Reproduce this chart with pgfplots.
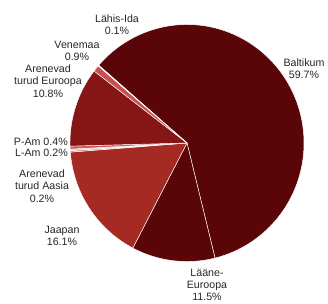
\documentclass[border=0pt]{standalone}
\usepackage{pgfplots}
\pgfplotsset{compat=1.18}
\usepackage{fontspec}
\setmainfont{Liberation Sans}
% shares in percent, clockwise from Baltikum
\def\pBalt{59.7}\def\pLaane{11.5}\def\pJaap{16.1}\def\pAasia{0.2}
\def\pLAm{0.2}\def\pPAm{0.4}\def\pEur{10.8}\def\pVen{0.9}\def\pLahis{0.1}
\def\pTot{99.9}
\pgfmathsetmacro\k{360/\pTot}
\pgfmathsetmacro\aA{139}
\pgfmathsetmacro\aB{\aA-\pBalt*\k}
\pgfmathsetmacro\aC{\aB-\pLaane*\k}
\pgfmathsetmacro\aD{\aC-\pJaap*\k}
\pgfmathsetmacro\aE{\aD-\pAasia*\k}
\pgfmathsetmacro\aF{\aE-\pLAm*\k}
\pgfmathsetmacro\aG{\aF-\pPAm*\k}
\pgfmathsetmacro\aH{\aG-\pEur*\k}
\pgfmathsetmacro\aI{\aH-\pVen*\k}
\pgfmathsetmacro\aJ{\aI-\pLahis*\k}
\definecolor{cBalt}{RGB}{90,6,8}
\definecolor{cLaane}{RGB}{90,6,8}
\definecolor{cJaap}{RGB}{165,42,36}
\definecolor{cAasia}{RGB}{215,120,115}
\definecolor{cLAm}{RGB}{235,200,200}
\definecolor{cPAm}{RGB}{200,90,90}
\definecolor{cEur}{RGB}{134,22,22}
\definecolor{cVen}{RGB}{200,80,80}
\definecolor{cLahis}{RGB}{235,200,200}
\def\cx{187}\def\cy{161}\def\rx{117}\def\ry{118.5}
\begin{document}
\begin{tikzpicture}
\begin{axis}[hide axis, scale only axis, width=328bp, height=304bp,
  xmin=0, xmax=328, ymin=0, ymax=304, clip=false,
  every axis plot/.append style={draw=white, line width=0.45bp, samples=90},
  nodes={font=\fontsize{10.7}{12.4}\selectfont, text=black!85, align=center, inner sep=0pt}]
\addplot[fill=cBalt, domain=\aB:\aA] ({\cx+\rx*cos(x)},{\cy+\ry*sin(x)}) -- (axis cs:\cx,\cy) -- cycle;
\addplot[fill=cLaane, domain=\aC:\aB] ({\cx+\rx*cos(x)},{\cy+\ry*sin(x)}) -- (axis cs:\cx,\cy) -- cycle;
\addplot[fill=cJaap, domain=\aD:\aC] ({\cx+\rx*cos(x)},{\cy+\ry*sin(x)}) -- (axis cs:\cx,\cy) -- cycle;
\addplot[fill=cAasia, domain=\aE:\aD, samples=3] ({\cx+\rx*cos(x)},{\cy+\ry*sin(x)}) -- (axis cs:\cx,\cy) -- cycle;
\addplot[fill=cLAm, domain=\aF:\aE, samples=3] ({\cx+\rx*cos(x)},{\cy+\ry*sin(x)}) -- (axis cs:\cx,\cy) -- cycle;
\addplot[fill=cPAm, domain=\aG:\aF, samples=3] ({\cx+\rx*cos(x)},{\cy+\ry*sin(x)}) -- (axis cs:\cx,\cy) -- cycle;
\addplot[fill=cEur, domain=\aH:\aG] ({\cx+\rx*cos(x)},{\cy+\ry*sin(x)}) -- (axis cs:\cx,\cy) -- cycle;
\addplot[fill=cVen, domain=\aI:\aH, samples=5] ({\cx+\rx*cos(x)},{\cy+\ry*sin(x)}) -- (axis cs:\cx,\cy) -- cycle;
\addplot[fill=cLahis, domain=\aJ:\aI, samples=3] ({\cx+\rx*cos(x)},{\cy+\ry*sin(x)}) -- (axis cs:\cx,\cy) -- cycle;
\node at (axis cs:304,235) {Baltikum\\59.7\%};
\node at (axis cs:207,19) {Lääne-\\Euroopa\\11.5\%};
\node at (axis cs:62,68) {Jaapan\\16.1\%};
\node at (axis cs:42,118) {Arenevad\\turud Aasia\\0.2\%};
\node[anchor=east] at (axis cs:68,151) {L-Am 0.2\%};
\node[anchor=east] at (axis cs:68,162) {P-Am 0.4\%};
\node at (axis cs:48,223) {Arenevad\\turud Euroopa\\10.8\%};
\node at (axis cs:77,253) {Venemaa\\0.9\%};
\node at (axis cs:117,279) {Lähis-Ida\\0.1\%};
\end{axis}
\pgfresetboundingbox
\path (0,0) rectangle (328bp,304bp);
\end{tikzpicture}
\end{document}
